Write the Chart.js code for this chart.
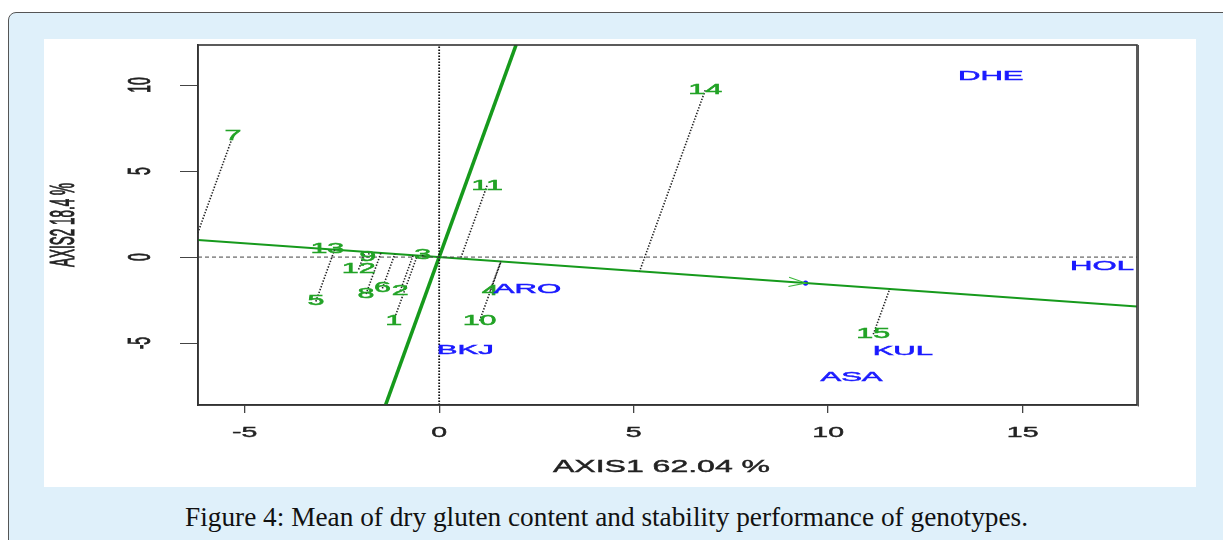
<!DOCTYPE html>
<html>
<head>
<meta charset="utf-8">
<script src="https://cdn.jsdelivr.net/npm/chart.js@4.4.1/dist/chart.umd.min.js"></script>
<style>
  html, body { margin:0; padding:0; width:1223px; height:540px; overflow:hidden; background:#ffffff; }
  #outer { position:absolute; left:8px; top:12px; width:1240px; height:560px; background:#dff0fa;
           border:1.5px solid #555; border-radius:8px; box-sizing:border-box; }
  #panel { position:absolute; left:44px; top:39px; width:1152px; height:448px; background:#ffffff; }
  #wrap { position:absolute; left:0; top:0; width:1223px; height:540px; }
  #caption { position:absolute; left:185px; top:504px; font-family:"Liberation Serif", serif; font-size:27px;
             line-height:27px; color:#111; white-space:nowrap; transform-origin:0 0; }
</style>
</head>
<body>
<div id="outer"></div>
<div id="panel"></div>
<div id="caption">Figure 4: Mean of dry gluten content and stability performance of genotypes.</div>
<div id="wrap"><canvas id="c" width="1223" height="540"></canvas></div>
<script>
// ---------------- data ----------------
const genotypes = ['1','2','3','4','5','6','7','8','9','10','11','12','13','14','15'];
const genoX = [-1.17, -1.00, -0.42, 1.31, -3.17, -1.46, -5.30, -1.88, -1.84, 1.04, 1.23, -2.07, -2.875, 6.84, 11.16];
const genoY = [-3.70, -1.96, 0.12, -1.96, -2.58, -1.82, 7.05, -2.15, -0.02, -3.70, 4.15, -0.72, 0.45, 9.70, -4.49];

const environments = ['DHE','HOL','ARO','BKJ','KUL','ASA'];
const envX = [14.18, 17.04, 2.27, 0.67, 11.92, 10.60];
const envY = [10.51, -0.51, -1.88, -5.41, -5.48, -6.98];

// average environment coordinate (arrow tip)
const meanEnv = [9.42, -1.51];

const xTicks = [-5, 0, 5, 10, 15];
const yTicks = [-5, 0, 5, 10];
const xRange = [-6.2, 17.94];
const yRange = [-8.6, 12.33];
const xTitle = 'AXIS1 62.04 %';
const yTitle = 'AXIS2 18.4 %';

// ---------------- derived geometry ----------------
const norm = Math.hypot(meanEnv[0], meanEnv[1]);
const ux = meanEnv[0] / norm, uy = meanEnv[1] / norm;
const aeaSlope = meanEnv[1] / meanEnv[0];
const atcSlope = -1 / aeaSlope;

const GREEN_LINE = '#169a1c';
const GREEN_TEXT = '#22a326';
const BLUE = '#1a1aff';

const datasets = [];
// reference lines through the origin
datasets.push({ data: [{x:xRange[0], y:0}, {x:xRange[1], y:0}], showLine:true, pointRadius:0,
  borderColor:'#444', borderWidth:1, borderDash:[4,3] });
datasets.push({ data: [{x:0, y:yRange[0]}, {x:0, y:yRange[1]}], showLine:true, pointRadius:0,
  borderColor:'#111', borderWidth:1.8, borderDash:[1.4,1.6] });
// projection lines from each genotype onto the average-environment axis
genotypes.forEach((g, i) => {
  const s = genoX[i] * ux + genoY[i] * uy;
  datasets.push({ data: [{x:genoX[i], y:genoY[i]}, {x:s*ux, y:s*uy}], showLine:true, pointRadius:0,
    borderColor:'#222', borderWidth:1.6, borderDash:[1.4,1.6] });
});
// average environment axis
datasets.push({ data: [{x:xRange[0], y:aeaSlope*xRange[0]}, {x:xRange[1], y:aeaSlope*xRange[1]}],
  showLine:true, pointRadius:0, borderColor:GREEN_LINE, borderWidth:2 });
// perpendicular (stability) axis
datasets.push({ data: [{x:yRange[0]/atcSlope, y:yRange[0]}, {x:yRange[1]/atcSlope, y:yRange[1]}],
  showLine:true, pointRadius:0, borderColor:GREEN_LINE, borderWidth:3.6 });
// average environment point
datasets.push({ data: [{x:meanEnv[0], y:meanEnv[1]}], showLine:false, pointRadius:2.6,
  pointBackgroundColor:BLUE, pointBorderColor:BLUE, pointBorderWidth:0 });

function drawText(ctx, text, x, y, font, color, sx, rotate, weight) {
  ctx.save();
  ctx.translate(x, y);
  ctx.scale(sx, 1);
  if (rotate) ctx.rotate(-Math.PI / 2);
  ctx.font = font;
  ctx.fillStyle = color;
  ctx.strokeStyle = color;
  ctx.lineWidth = weight || 0;
  ctx.textAlign = 'center';
  ctx.textBaseline = 'middle';
  ctx.fillText(text, 0, 0);
  if (weight) ctx.strokeText(text, 0, 0);
  ctx.restore();
}

const decor = {
  id: 'decor',
  afterDatasetsDraw(chart) {
    const ctx = chart.ctx, xs = chart.scales.x, ys = chart.scales.y, a = chart.chartArea;
    // arrow head at the average environment
    const tx = xs.getPixelForValue(meanEnv[0]), ty = ys.getPixelForValue(meanEnv[1]);
    const ox = xs.getPixelForValue(0), oy = ys.getPixelForValue(0);
    const ang = Math.atan2(ty - oy, tx - ox);
    ctx.save();
    ctx.strokeStyle = '#3cb83c'; ctx.lineWidth = 1.2;
    ctx.beginPath();
    ctx.moveTo(tx - 17.5*Math.cos(ang - 0.27), ty - 17.5*Math.sin(ang - 0.27));
    ctx.lineTo(tx, ty);
    ctx.lineTo(tx - 17.5*Math.cos(ang + 0.27), ty - 17.5*Math.sin(ang + 0.27));
    ctx.stroke();
    ctx.restore();
    // box around plot
    ctx.save();
    ctx.strokeStyle = '#333'; ctx.lineWidth = 1.6;
    ctx.strokeRect(a.left, a.top, a.right - a.left, a.bottom - a.top);
    ctx.strokeStyle = '#555'; ctx.lineWidth = 1.2;
    ctx.beginPath(); ctx.moveTo(a.right + 1.4, a.top); ctx.lineTo(a.right + 1.4, a.bottom + 1.4); ctx.stroke();
    ctx.restore();
    // genotype labels
    genotypes.forEach((g, i) => {
      drawText(ctx, g, xs.getPixelForValue(genoX[i]), ys.getPixelForValue(genoY[i]),
        '14.5px "Liberation Sans", Arial, sans-serif', GREEN_TEXT, 2.1, false, 0.5);
    });
    // environment labels
    environments.forEach((e, i) => {
      drawText(ctx, e, xs.getPixelForValue(envX[i]), ys.getPixelForValue(envY[i]),
        '13.5px "Liberation Sans", Arial, sans-serif', BLUE, 2.3, false, 0.5);
    });
  },
  afterDraw(chart) {
    const ctx = chart.ctx, xs = chart.scales.x, ys = chart.scales.y, a = chart.chartArea;
    xs.ticks.forEach(t => {
      drawText(ctx, String(t.value), xs.getPixelForValue(t.value), 432.5,
        '15px "Liberation Sans", Arial, sans-serif', '#222', 1.9, false, 0.4);
    });
    ys.ticks.forEach(t => {
      drawText(ctx, String(t.value), 141.5, ys.getPixelForValue(t.value),
        '14px "Liberation Sans", Arial, sans-serif', '#222', 2.3, true, 0.4);
    });
    drawText(ctx, xTitle, (a.left + a.right) / 2 - 6, 467.5,
      '16px "Liberation Sans", Arial, sans-serif', '#222', 2.0, false, 0.4);
    drawText(ctx, yTitle, 64.5, (a.top + a.bottom) / 2,
      '13.5px "Liberation Sans", Arial, sans-serif', '#222', 2.6, true, 0.4);
  }
};

new Chart(document.getElementById('c'), {
  type: 'scatter',
  data: { datasets },
  options: {
    responsive: false,
    animation: false,
    layout: { padding: { left: 180, top: 45, right: 86, bottom: 127 } },
    plugins: { legend: { display:false }, tooltip: { enabled:false } },
    scales: {
      x: {
        type:'linear', min:xRange[0], max:xRange[1],
        afterBuildTicks: s => { s.ticks = xTicks.map(v => ({ value:v })); },
        ticks: { display:false },
        grid: { display:true, drawOnChartArea:false, drawTicks:true, tickLength:8, color:'#444', lineWidth:1.3 },
        border: { display:true, color:'#333', width:1.6 }
      },
      y: {
        type:'linear', min:yRange[0], max:yRange[1],
        afterBuildTicks: s => { s.ticks = yTicks.map(v => ({ value:v })); },
        ticks: { display:false },
        grid: { display:true, drawOnChartArea:false, drawTicks:true, tickLength:18, color:'#444', lineWidth:1 },
        border: { display:true, color:'#333', width:1.6 }
      }
    }
  },
  plugins: [decor]
});

// fit caption width to the reference
(function(){
  const cap = document.getElementById('caption');
  const w = cap.getBoundingClientRect().width;
  cap.style.transform = 'scaleX(' + (843 / w) + ')';
})();
</script>
</body>
</html>
